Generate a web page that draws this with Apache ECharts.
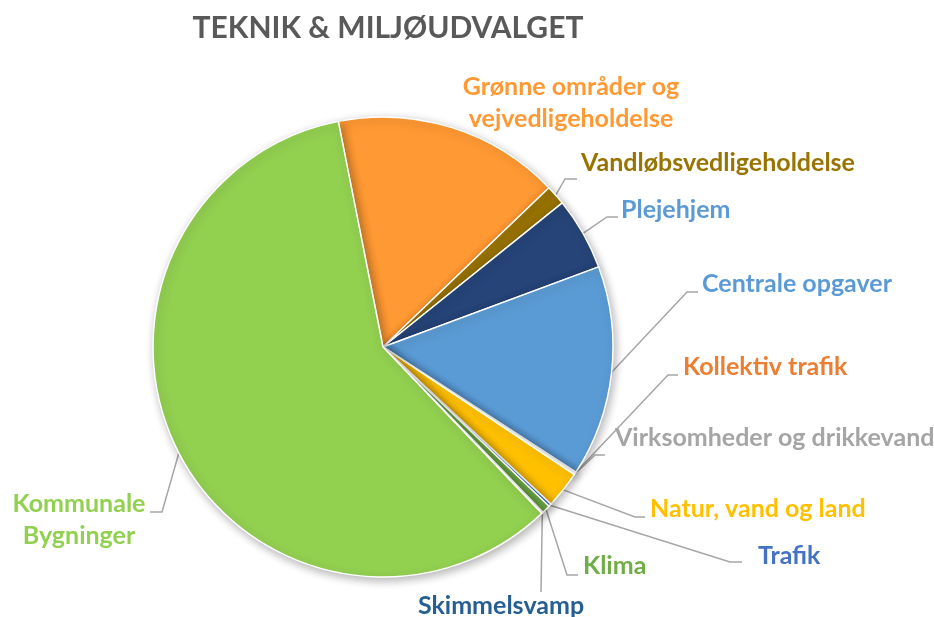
<!DOCTYPE html>
<html>
<head>
<meta charset="utf-8">
<script src="https://cdn.jsdelivr.net/npm/echarts@6/dist/echarts.min.js"></script>
<style>
  html, body { margin: 0; padding: 0; background: #fff; }
  #main { width: 934px; height: 617px; }
</style>
</head>
<body>
<div id="main"></div>
<script>
  // 数据
  var names = ['Grønne områder og\nvejvedligeholdelse', 'Vandløbsvedligeholdelse', 'Plejehjem', 'Centrale opgaver',
    'Kollektiv trafik', 'Virksomheder og drikkevand', 'Natur, vand og land', 'Trafik', 'Klima', 'Skimmelsvamp',
    'Kommunale\nBygninger'];
  var values = [15.9, 1.4, 5.1, 14.8, 0.1, 0.1, 2.6, 0.2, 0.6, 0.1, 58.9];

  // 颜色
  var sliceColors = ['#FF9933', '#997300', '#264478', '#5B9BD5', '#ED7D31', '#A5A5A5', '#FFC000', '#4472C4', '#70AD47', '#255E91', '#92D050'];
  var textColors = ['#FF9933', '#997300', '#5B9BD5', '#5B9BD5', '#ED7D31', '#A5A5A5', '#FFC000', '#4472C4', '#70AD47', '#255E91', '#92D050'];

  // 标签位置 (文字锚点) 和引导线拐点
  var labelPos = [[571, 103], [581, 163], [621, 210], [702, 284], [683, 367], [615, 438], [650, 509], [758, 556], [583, 566], [501, 606], [79, 520]];
  var labelAlign = ['center', 'left', 'left', 'left', 'left', 'left', 'left', 'left', 'left', 'center', 'center'];
  var lineBend = [null, [565, 179], [607, 217], [687, 292], [668, 375], [595, 455], [635, 517], [730, 562], [567, 575], [541, 592], [162, 512]];
  var lineTail = [0, 12, 11, 11, 10, 10, 10, 12, 11, 0, -12];

  var chart = echarts.init(document.getElementById('main'));

  var pieData = names.map(function (n, i) {
    return {
      name: n,
      value: values[i],
      itemStyle: { color: sliceColors[i] },
      label: { color: textColors[i] },
      labelLine: { show: lineBend[i] != null }
    };
  });

  var option = {
    animation: false,
    title: {
      text: 'TEKNIK & MILJØUDVALGET',
      left: 383,
      top: 8,
      textAlign: 'center',
      textStyle: {
        fontFamily: 'Lato',
        fontWeight: 'bold',
        fontSize: 30,
        color: '#595959'
      }
    },
    series: [{
      type: 'pie',
      center: [383, 347],
      radius: 230,
      startAngle: 101.2,
      clockwise: true,
      avoidLabelOverlap: false,
      itemStyle: {
        borderColor: '#fff',
        borderWidth: 1.5,
        shadowBlur: 10,
        shadowColor: 'rgba(0,0,0,0.3)',
        shadowOffsetX: 2,
        shadowOffsetY: 3
      },
      label: {
        position: 'outside',
        fontFamily: 'Lato',
        fontWeight: 'bold',
        fontSize: 25,
        lineHeight: 32
      },
      labelLine: {
        lineStyle: { color: '#A6A6A6', width: 1.5 }
      },
      labelLayout: function (p) {
        var i = p.dataIndex;
        var out = {
          x: labelPos[i][0],
          y: labelPos[i][1],
          align: labelAlign[i],
          verticalAlign: 'middle'
        };
        var start = p.labelLinePoints && p.labelLinePoints[0];
        var bend = lineBend[i];
        if (start && bend) {
          var pts = [start, bend];
          if (lineTail[i]) pts.push([bend[0] + lineTail[i], bend[1]]);
          out.labelLinePoints = pts;
        }
        return out;
      },
      data: pieData
    }]
  };
  chart.setOption(option);
</script>
</body>
</html>
